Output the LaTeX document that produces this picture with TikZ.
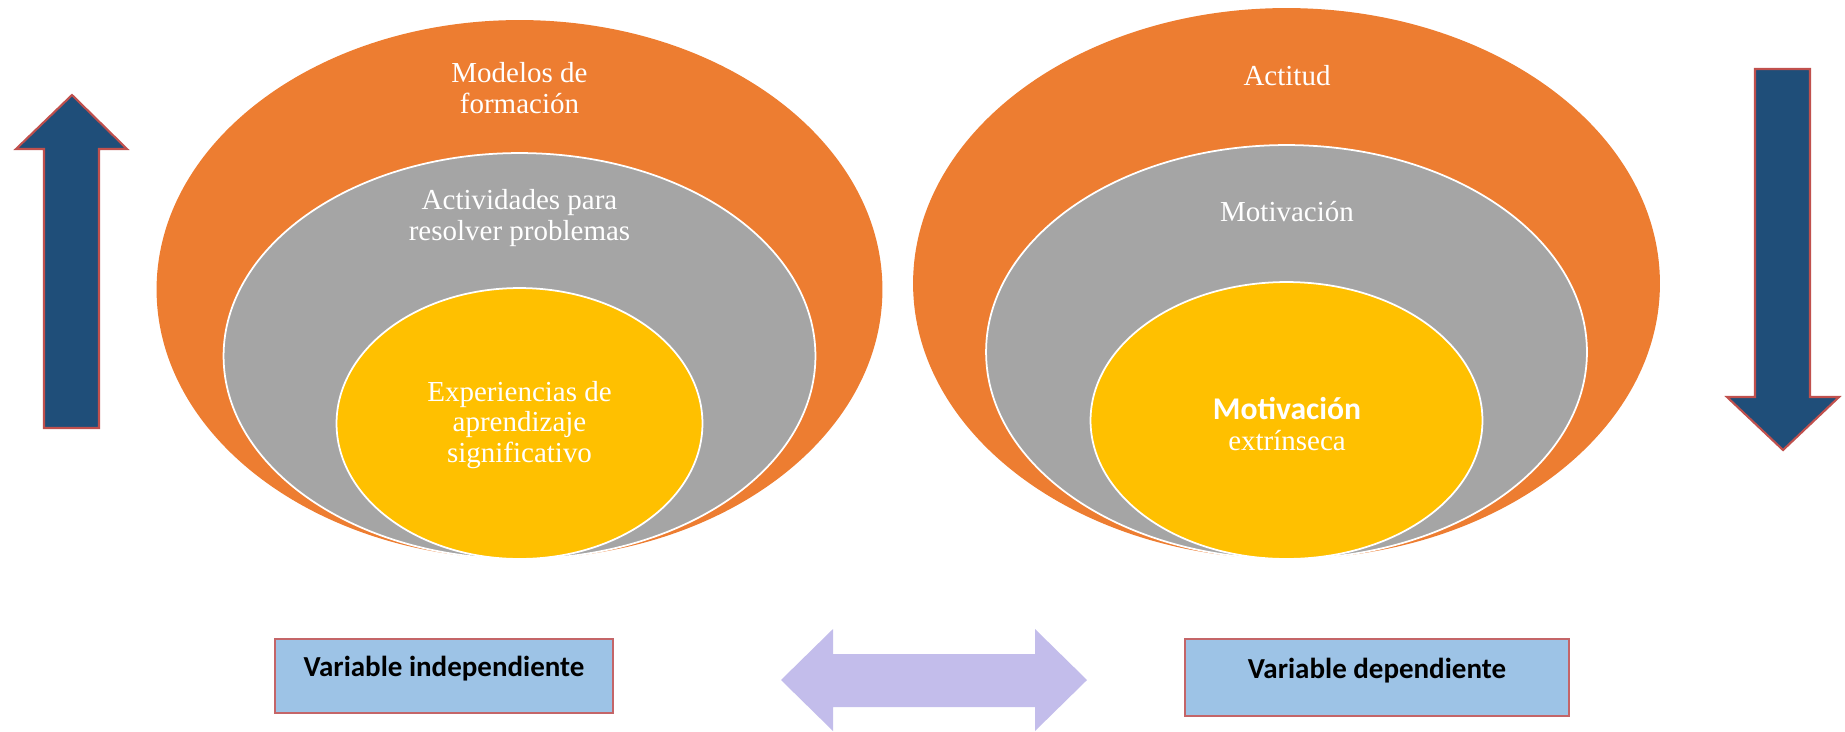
\documentclass[tikz,border=0pt]{standalone}
\usepackage{fontspec}
\setmainfont{Liberation Serif}
\newfontfamily\calibri{Carlito}
\usetikzlibrary{shapes.geometric}

\definecolor{layerOrange}{HTML}{ED7D31}
\definecolor{layerGray}{HTML}{A5A5A5}
\definecolor{layerYellow}{HTML}{FFC000}
\definecolor{arrowBlue}{HTML}{1F4E79}
\definecolor{arrowRed}{HTML}{C0504D}
\definecolor{boxBlue}{HTML}{9DC3E6}
\definecolor{boxRed}{HTML}{C46568}
\definecolor{linkLilac}{HTML}{C3BDEB}

\tikzset{
  layer/.style={ellipse, inner sep=0pt, draw=white, line width=1pt},
  lbl/.style={text=white, align=center, font=\fontsize{16.5}{17.5}\selectfont},
  varbox/.style={draw=boxRed, line width=1.2pt, fill=boxBlue, inner sep=0pt,
    font=\calibri\bfseries\fontsize{16.5}{19}\selectfont},
  bigarrow/.style={fill=arrowBlue, draw=arrowRed, line width=1.2pt, line join=miter},
}

\begin{document}
\begin{tikzpicture}[x=0.02cm, y=-0.02cm]
   \useasboundingbox (0,0) rectangle (1845,731);
   % left side: independent variable
   \node[layer, draw=none, fill=layerOrange, minimum width=14.52cm, minimum height=10.78cm] (modelos) at (519.5,289.5) {};
   \node[layer, fill=layerGray, minimum width=11.84cm, minimum height=8.12cm] (actividades) at (519.5,356) {};
   \node[layer, fill=layerYellow, minimum width=7.32cm, minimum height=5.42cm] (experiencias) at (519.5,423.5) {};
   \node[lbl] (modelosTxt) at (519.5,88) {Modelos de\\formación};
   \node[lbl] (actividadesTxt) at (519.5,218) {Actividades para\\resolver problemas};
   \node[lbl] (experienciasTxt) at (519.5,425) {Experiencias de\\aprendizaje\\significativo};
   % right side: dependent variable
   \node[layer, draw=none, fill=layerOrange, minimum width=14.94cm, minimum height=11.02cm] (actitud) at (1286.5,283.5) {};
   \node[layer, fill=layerGray, minimum width=12.02cm, minimum height=8.28cm] (motivacion) at (1286.5,352) {};
   \node[layer, fill=layerYellow, minimum width=7.84cm, minimum height=5.54cm] (extrinseca) at (1286.5,420.5) {};
   \node[lbl] (actitudTxt) at (1287,76) {Actitud};
   \node[lbl] (motivacionTxt) at (1287,212) {Motivación};
   \node[lbl] (extrinsecaTxt) at (1287,424) {{\calibri\bfseries\fontsize{18}{20}\selectfont Motivación}\\extrínseca};
   % block arrows
   \draw[bigarrow] (72,95) -- (127,149) -- (99,149) -- (99,428) -- (44,428) -- (44,149) -- (16,149) -- cycle;
   \draw[bigarrow] (1755,69) -- (1810,69) -- (1810,397) -- (1839,397) -- (1783,450) -- (1727,397) -- (1755,397) -- cycle;
   \fill[linkLilac] (781,680) -- (833,629) -- (833,654) -- (1035,654) -- (1035,629) -- (1087,680)
     -- (1035,731) -- (1035,707) -- (833,707) -- (833,731) -- cycle;
   % variable boxes
   \node[varbox, minimum width=6.76cm, minimum height=1.48cm] (indep) at (444,676) {\raisebox{0.14cm}[\height][\depth]{Variable independiente}};
   \node[varbox, minimum width=7.68cm, minimum height=1.54cm] (dep) at (1377,677.5) {\raisebox{0.14cm}[\height][\depth]{Variable dependiente}};
\end{tikzpicture}
\end{document}
